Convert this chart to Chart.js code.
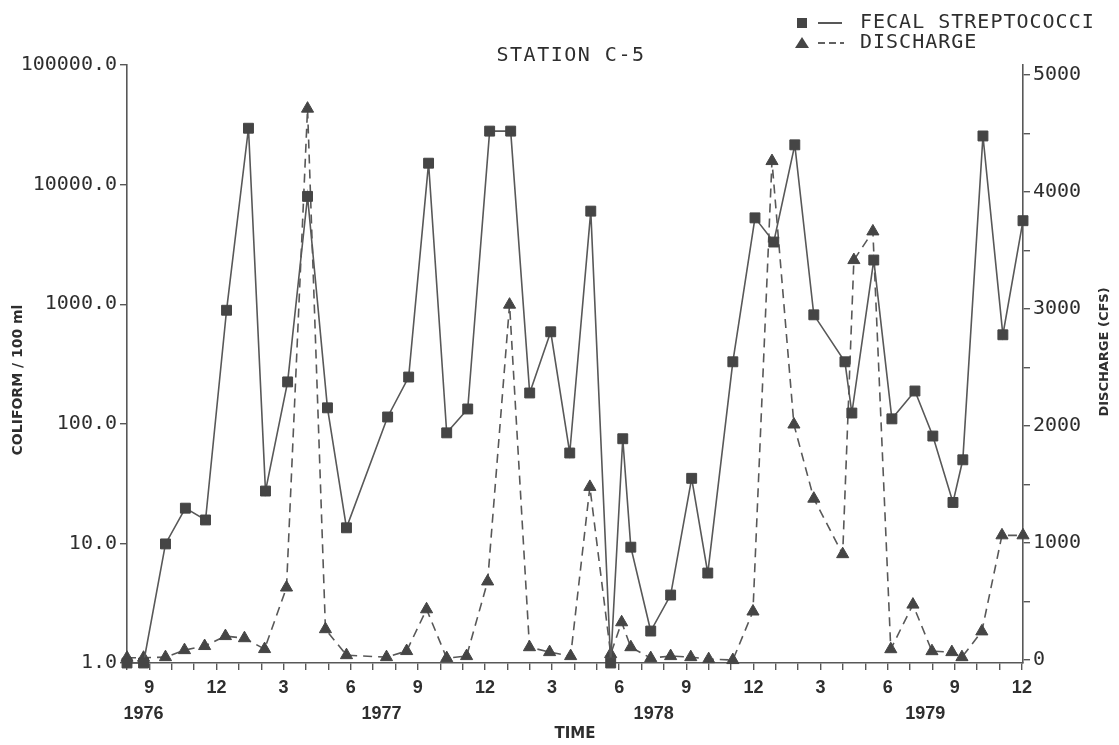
<!DOCTYPE html>
<html>
<head>
<meta charset="utf-8">
<title>Station C-5</title>
<script src="https://cdn.jsdelivr.net/npm/chart.js@4.4.0/dist/chart.umd.min.js"></script>
<style>
  html, body { margin: 0; padding: 0; background: #ffffff; }
  #wrap { width: 1119px; height: 745px; position: relative; }
</style>
</head>
<body>
<div id="wrap"><canvas id="stationChart" width="1119" height="745"></canvas></div>
<script>
// Time in months counted from Jan 1976 (1 = Jan 1976, 12 = Dec 1976, 48 = Dec 1979)
var fsTime = [8.0, 8.74, 9.72, 10.61, 11.51, 12.45, 13.43, 14.19, 15.18, 16.07, 16.96, 17.81,
  19.65, 20.59, 21.48, 22.29, 23.23, 24.21, 25.15, 26.0, 26.94, 27.79, 28.73, 29.62, 30.16,
  30.52, 31.41, 32.30, 33.24, 33.96, 35.08, 36.07, 36.91, 37.85, 38.70, 40.09, 40.40, 41.38,
  42.19, 43.22, 44.02, 44.92, 45.36, 46.26, 47.15, 48.05];
var fsValues = [1.0, 1.0, 9.9, 19.7, 15.7, 890, 29600, 27.4, 224, 7970, 136, 13.5,
  114, 246, 15100, 84, 133, 28000, 28000, 181, 588, 57, 6000, 1.0, 75,
  9.3, 1.85, 3.7, 35, 5.65, 330, 5270, 3310, 21500, 815, 330, 123, 2340,
  110, 188, 79, 22, 50, 25500, 555, 4990];

var qTime = [8.0, 8.74, 9.72, 10.57, 11.47, 12.40, 13.25, 14.15, 15.13, 16.07, 16.87, 17.81,
  19.60, 20.50, 21.39, 22.29, 23.18, 24.12, 25.10, 25.99, 26.89, 27.83, 28.69, 29.62, 30.11,
  30.52, 31.41, 32.30, 33.20, 34.0, 35.08, 35.98, 36.83, 37.81, 38.70, 39.99, 40.49, 41.34,
  42.14, 43.13, 43.98, 44.87, 45.32, 46.21, 47.11, 48.05];
var qValues = [20, 20, 25, 85, 120, 205, 187, 94, 620, 4712, 264, 42,
  25, 77, 434, 17, 34, 672, 3037, 110, 68, 34, 1480, 51, 323,
  110, 17, 34, 25, 8, 0, 415, 4264, 2013, 1379, 905, 3418, 3663,
  93, 474, 76, 68, 25, 245, 1066, 1066];

var coliformTicks = [1, 10, 100, 1000, 10000, 100000];
var dischargeTicks = [0, 500, 1000, 1500, 2000, 2500, 3000, 3500, 4000, 4500, 5000];
var monthTicks = [8, 9, 10, 11, 12, 13, 14, 15, 16, 17, 18, 19, 20, 21, 22, 23, 24, 25, 26, 27, 28,
  29, 30, 31, 32, 33, 34, 35, 36, 37, 38, 39, 40, 41, 42, 43, 44, 45, 46, 47, 48];
var yearLabels = ['1976', '1977', '1978', '1979'];
var yearPositions = [8.74, 19.38, 31.54, 43.68];

var ink = '#2e2e2e';
var lineGray = '#585858';
var markGray = '#454545';

function toPoints(xs, ys) {
  return xs.map(function(x, i) { return { x: x, y: ys[i] }; });
}

// title, legend, axis titles and year labels
var annotations = {
  id: 'annotations',
  afterDraw: function(chart) {
    var ctx = chart.ctx;
    var xs = chart.scales.x;
    ctx.save();
    ctx.fillStyle = ink;
    ctx.strokeStyle = ink;

    ctx.font = 'bold 18px "Liberation Sans"';
    ctx.textAlign = 'center';
    ctx.textBaseline = 'middle';
    yearLabels.forEach(function(label, i) {
      ctx.fillText(label, xs.getPixelForValue(yearPositions[i]), 714);
    });

    // vertical axis titles, both reading bottom to top
    ctx.save();
    ctx.translate(18, 380);
    ctx.rotate(-Math.PI / 2);
    ctx.font = 'bold 14px "DejaVu Sans"';
    ctx.fillText('COLIFORM / 100 ml', 0, 0);
    ctx.restore();
    ctx.save();
    ctx.translate(1105, 352);
    ctx.rotate(-Math.PI / 2);
    ctx.font = 'bold 13px "DejaVu Sans"';
    ctx.fillText('DISCHARGE (CFS)', 0, 0);
    ctx.restore();

    ctx.font = '20px "DejaVu Sans Mono"';
    ctx.letterSpacing = '1.5px';
    ctx.fillText('STATION C-5', 571, 56);

    ctx.textAlign = 'left';
    ctx.letterSpacing = '1px';
    ctx.fillText('FECAL STREPTOCOCCI', 860, 23);
    ctx.fillText('DISCHARGE', 860, 43);
    ctx.letterSpacing = '0px';

    ctx.fillStyle = markGray;
    ctx.fillRect(797, 18, 10, 10);
    ctx.beginPath();
    ctx.moveTo(802, 37);
    ctx.lineTo(809, 48);
    ctx.lineTo(795, 48);
    ctx.closePath();
    ctx.fill();

    ctx.lineWidth = 1.6;
    ctx.beginPath();
    ctx.moveTo(818, 23);
    ctx.lineTo(842, 23);
    ctx.stroke();
    ctx.setLineDash([7, 4]);
    ctx.beginPath();
    ctx.moveTo(818, 43);
    ctx.lineTo(844, 43);
    ctx.stroke();
    ctx.restore();
  }
};

new Chart(document.getElementById('stationChart').getContext('2d'), {
  type: 'line',
  data: {
    datasets: [{
      label: 'FECAL STREPTOCOCCI',
      data: toPoints(fsTime, fsValues),
      yAxisID: 'y',
      borderColor: lineGray,
      borderWidth: 1.6,
      pointStyle: 'rect',
      pointRadius: 7,
      pointBackgroundColor: markGray,
      pointBorderColor: markGray,
      pointBorderWidth: 1,
      tension: 0,
      clip: false
    }, {
      label: 'DISCHARGE',
      data: toPoints(qTime, qValues),
      yAxisID: 'y2',
      borderColor: lineGray,
      borderWidth: 1.6,
      borderDash: [9, 6],
      pointStyle: 'triangle',
      pointRadius: 7,
      pointBackgroundColor: markGray,
      pointBorderColor: markGray,
      pointBorderWidth: 1,
      tension: 0,
      clip: false
    }]
  },
  options: {
    responsive: false,
    animation: false,
    layout: { padding: { top: 65, left: 0, right: 0, bottom: 0 } },
    plugins: {
      legend: { display: false },
      tooltip: { enabled: false }
    },
    scales: {
      x: {
        type: 'linear',
        position: 'bottom',
        min: 8,
        max: 48.05,
        afterBuildTicks: function(s) {
          s.ticks = monthTicks.map(function(v) { return { value: v }; });
        },
        afterFit: function(s) { s.height = 82; },
        ticks: {
          autoSkip: false,
          maxRotation: 0,
          padding: 7,
          color: ink,
          font: { family: 'Liberation Sans', size: 18, weight: 'bold' },
          callback: function(v) {
            var m = ((v - 1) % 12) + 1;
            return m % 3 === 0 ? String(m) : '';
          }
        },
        grid: { drawOnChartArea: false, drawTicks: true, tickLength: 7, color: lineGray, lineWidth: 1.4 },
        border: { color: lineGray, width: 1.6 },
        title: {
          display: true,
          text: 'TIME',
          color: ink,
          font: { family: 'DejaVu Sans', size: 15, weight: 'bold' },
          padding: { top: 0, bottom: 2 }
        }
      },
      y: {
        type: 'logarithmic',
        position: 'left',
        min: 1,
        max: 100000,
        afterBuildTicks: function(s) {
          s.ticks = coliformTicks.map(function(v) { return { value: v }; });
        },
        afterFit: function(s) { s.width = 127; },
        ticks: {
          padding: 3,
          color: ink,
          font: { family: 'DejaVu Sans Mono', size: 20 },
          callback: function(v) { return Number(v).toFixed(1); }
        },
        grid: { drawOnChartArea: false, drawTicks: true, tickLength: 7, color: lineGray, lineWidth: 1.4 },
        border: { color: lineGray, width: 1.6 }
      },
      y2: {
        type: 'linear',
        position: 'right',
        min: -25,
        max: 5085,
        afterBuildTicks: function(s) {
          s.ticks = dischargeTicks.map(function(v) { return { value: v }; });
        },
        afterFit: function(s) { s.width = 96; },
        ticks: {
          padding: 3,
          color: ink,
          font: { family: 'DejaVu Sans Mono', size: 20 },
          callback: function(v) { return v % 1000 === 0 ? String(v) : ''; }
        },
        grid: { drawOnChartArea: false, drawTicks: true, tickLength: 7, color: lineGray, lineWidth: 1.4 },
        border: { color: lineGray, width: 1.6 }
      }
    }
  },
  plugins: [annotations]
});
</script>
</body>
</html>
